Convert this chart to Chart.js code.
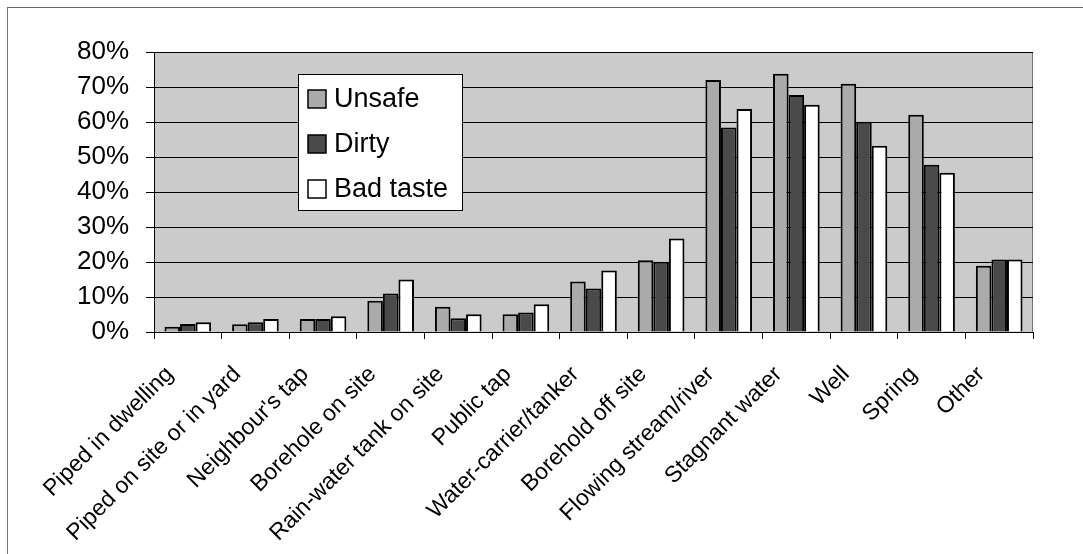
<!DOCTYPE html>
<html lang="en">
<head>
  <meta charset="UTF-8"/>
  <title>Water source perception</title>
  <script src="https://cdn.jsdelivr.net/npm/chart.js"></script>
  <style>
    html, body { margin:0; padding:0; background:#fff; }
    body { width:1083px; height:554px; position:relative; overflow:hidden; }
    .frame { position:absolute; left:7px; top:7px; width:1200px; height:700px; border-left:1px solid #777; border-top:1px solid #666; }
    #wrap { position:absolute; left:0; top:0; width:1083px; height:554px; }
  </style>
</head>
<body>
<div class="frame"></div>
<div id="wrap"><canvas id="chart"></canvas></div>

<script>
  // categories and series (percent)
  const categories = ["Piped in dwelling","Piped on site or in yard","Neighbour's tap","Borehole on site",
    "Rain-water tank on site","Public tap","Water-carrier/tanker","Borehold off site",
    "Flowing stream/river","Stagnant water","Well","Spring","Other"];
  const unsafe   = [1.5, 2.2, 3.7, 8.9, 7.2, 5.1, 14.4, 20.5, 72.0, 73.8, 70.9, 62.1, 18.9];
  const dirty    = [2.3, 2.8, 3.7, 11.0, 3.9, 5.6, 12.4, 20.1, 58.4, 67.7, 60.1, 47.8, 20.7];
  const badTaste = [2.8, 3.7, 4.5, 15.0, 5.1, 7.9, 17.6, 26.7, 63.7, 64.9, 53.2, 45.5, 20.7];
  const seriesNames = ["Unsafe", "Dirty", "Bad taste"];
  const yTicks = [0, 10, 20, 30, 40, 50, 60, 70, 80];

  const FONT = "'Liberation Sans', Arial, sans-serif";

  // grey plot area
  const plotBg = {
    id:'plotBg',
    beforeDraw(c){
      const {ctx, chartArea:a} = c;
      ctx.save();
      ctx.fillStyle = '#cbcbcb';
      ctx.fillRect(a.left, a.top, a.right - a.left, a.bottom - a.top);
      ctx.strokeStyle = '#777';
      ctx.lineWidth = 1;
      ctx.beginPath();
      ctx.moveTo(a.left, a.top + 0.5); ctx.lineTo(a.right - 0.5, a.top + 0.5); ctx.lineTo(a.right - 0.5, a.bottom);
      ctx.stroke();
      ctx.restore();
    }
  };

  // legend box inside the plot
  const boxLegend = {
    id:'boxLegend',
    afterDraw(c){
      const {ctx, chartArea:a} = c;
      const x = a.left + 144, y = a.top + 22, w = 164, h = 136;
      ctx.save();
      ctx.fillStyle = '#fff';
      ctx.fillRect(x, y, w, h);
      ctx.strokeStyle = '#000'; ctx.lineWidth = 1;
      ctx.strokeRect(x + 0.5, y + 0.5, w, h);
      ctx.font = '27px ' + FONT;
      ctx.textBaseline = 'middle';
      c.data.datasets.forEach((ds, i) => {
        const cy = y + 25 + i * 45;
        ctx.fillStyle = ds.backgroundColor;
        ctx.fillRect(x + 10, cy - 9, 18, 18);
        ctx.strokeStyle = '#000'; ctx.lineWidth = 1.5;
        ctx.strokeRect(x + 10, cy - 9, 18, 18);
        ctx.fillStyle = '#000';
        ctx.fillText(ds.label, x + 36, cy + 1);
      });
      ctx.restore();
    }
  };

  new Chart(document.getElementById('chart'), {
    type:'bar',
    data:{
      labels: categories,
      datasets:[
        { label:seriesNames[0], data:unsafe,   backgroundColor:'#ababab' },
        { label:seriesNames[1], data:dirty,    backgroundColor:'#4a4a4a' },
        { label:seriesNames[2], data:badTaste, backgroundColor:'#ffffff' }
      ].map(d => Object.assign(d, { borderColor:'#000', borderWidth:2, categoryPercentage:0.69, barPercentage:1 }))
    },
    options:{
      responsive:true,
      maintainAspectRatio:false,
      animation:false,
      layout:{ padding:{ left:0, top:52, right:50, bottom:0 } },
      plugins:{ legend:{ display:false }, tooltip:{ enabled:false } },
      scales:{
        x:{
          grid:{ offset:true, drawOnChartArea:false, color:'#000', tickLength:7 },
          border:{ color:'#000', width:1 },
          ticks:{ maxRotation:45, minRotation:45, autoSkip:false, color:'#000', padding:22, labelOffset:-18,
                  font:{ family:FONT, size:23 } },
          afterFit(s){ s.height = 222; }
        },
        y:{
          min:0, max:80,
          afterBuildTicks(s){ s.ticks = yTicks.map(v => ({ value:v })); },
          grid:{ color:'#000', lineWidth:1, tickLength:8 },
          border:{ color:'#000', width:1 },
          ticks:{ color:'#000', padding:17, font:{ family:FONT, size:26 }, callback:v => v + '%' },
          afterFit(s){ s.width = 154; }
        }
      }
    },
    plugins:[plotBg, boxLegend]
  });
</script>
</body>
</html>
